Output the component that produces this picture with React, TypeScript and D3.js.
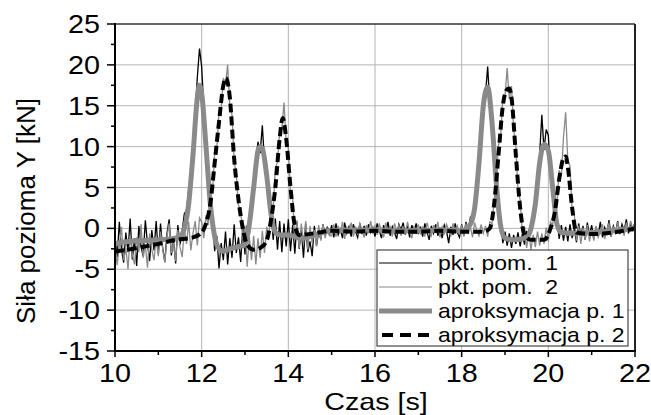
import React from 'react';
import * as d3 from 'd3';

const W = 651;
const H = 415;

const X_TICKS = [10, 12, 14, 16, 18, 20, 22];
const X_MINOR = [11, 13, 15, 17, 19, 21];
const Y_TICKS = [-15, -10, -5, 0, 5, 10, 15, 20, 25];
const Y_MINOR = [-12.5, -7.5, -2.5, 2.5, 7.5, 12.5, 17.5, 22.5];
const X_TITLE = 'Czas [s]';
const Y_TITLE = 'Siła pozioma Y [kN]';
const LEGEND_LABELS = ['pkt. pom.  1', 'pkt. pom.  2', 'aproksymacja p. 1', 'aproksymacja p. 2'];

// raw measurement samples, every 0.05 s from 10 s to 22 s
const RAW_T0 = 10;
const RAW_DT = 0.05;
const PKT1 = [
  -1.0, -3.5, 0.8, -2.6, -4.2, -0.5, -2.9, 1.2, -3.8, -1.2, -4.6, 0.3, -2.2, -3.4, 1.0, -1.9, -4.0, -0.2, -2.7, 0.9,
  -3.1, 0.6, -2.4, -4.1, -0.6, 1.1, -3.3, -1.5, -4.3, 0.4, -2.0, -0.3, 1.8, 2.2, 4.8, 6.5, 10.2, 13.9, 18.5, 22.0,
  19.8, 14.6, 9.2, 7.4, 2.1, 1.6, -2.8, -0.9, -4.9, -1.8, -3.9, -0.4, -4.4, -1.2, -3.6, 0.5, -3.0, -1.1, -4.1, 0.2,
  -3.2, 0.4, -0.8, 3.6, 4.1, 8.3, 10.6, 9.2, 12.6, 8.1, 7.8, 2.9, 2.6, -1.4, 1.2, -2.6, 0.9, -2.9, 0.6, -2.2,
  1.1, -2.8, 0.4, -3.1, 0.8, -2.5, -0.2, -3.6, 0.6, -2.9, -1.6, -3.4, 0.3, -2.1, -0.4, -1.3, 0.5, -0.9, 0.2, -0.8,
  0.4, -1.1, 0.6, -0.8, -0.1, -1.2, 0.7, -0.6, 0.2, -1.0, 0.5, -0.4, -1.1, 0.6, -0.7, 0.3, -0.9, 0.5, -0.5, 0.1,
  -1.0, 0.6, -0.3, -1.2, 0.4, -0.6, 0.8, -0.9, 0.2, -0.5, -1.3, 0.5, -0.2, 0.7, -0.8, 0.3, -1.1, 0.4, -0.4, 0.6,
  -0.7, 0.2, -1.0, 0.6, -0.4, -1.4, 0.3, -0.6, 0.5, -0.9, 0.1, -1.2, 0.4, -0.3, -1.8, 0.2, -0.8, 0.6, -0.5, -1.1,
  0.5, -0.9, 0.8, -0.4, 1.3, 0.6, 3.4, 4.8, 8.9, 11.2, 15.8, 16.4, 19.8, 15.2, 13.8, 8.6, 6.2, 1.6, 1.0, -1.8,
  -0.4, -2.1, -0.6, -2.4, -0.8, -1.9, -0.5, -2.2, -0.7, -2.0, -0.3, -1.5, 0.6, 1.0, 3.8, 4.9, 9.1, 13.9, 9.6, 12.1,
  11.4, 6.8, 5.9, 1.8, 1.4, -1.3, 0.4, -1.5, 0.2, -1.6, 0.5, -1.2, -0.1, -1.7, 0.6, -0.9, 0.3, -1.4, 0.7, -0.8,
  0.4, -1.3, 0.2, -0.9, 0.8, -1.1, 0.1, -0.6, 1.0, -1.0, 0.3, -0.5, 0.9, -0.7, 0.5, -0.3, 1.1, -0.6, 0.6, -0.2, 0.8,
];
const PKT2 = [
  -1.8, -4.5, -2.1, 0.2, -3.9, -2.4, -5.0, -0.9, -3.2, -4.4, -1.1, -2.9, 0.5, -3.6, -2.0, -4.8, -0.6, -2.6, -3.9, -1.3,
  -3.4, -0.4, -2.5, -4.2, -1.0, 0.6, -3.0, -1.8, -4.0, -0.2, -2.3, -3.5, -0.1, -1.9, 0.8, -2.7, -0.6, 0.9, -2.1, 1.3,
  0.8, -1.2, 1.6, 0.4, 4.2, 4.6, 9.1, 9.8, 14.2, 14.6, 18.4, 17.6, 20.0, 15.1, 13.9, 8.2, 6.6, 2.8, 2.4, -1.3,
  0.3, -4.7, -1.0, -3.9, -0.9, -4.4, -1.2, -3.6, -0.3, -3.0, 0.2, -1.1, 2.8, 2.2, 7.4, 8.1, 11.9, 12.2, 15.4, 10.6,
  9.8, 4.1, 3.6, -1.2, 1.0, -2.4, 0.6, -2.0, 0.9, -2.6, 0.3, -1.8, -0.2, -2.2, 0.4, -1.5, 0.5, -1.2, 0.1, -0.9,
  -0.9, 0.5, -1.0, 0.3, -0.6, 0.8, -1.3, 0.1, -0.4, 0.7, -1.0, 0.2, -0.8, 0.6, -0.2, -1.1, 0.4, -0.6, 0.9, -0.5,
  0.3, -0.8, 0.5, -0.2, -1.1, 0.7, -0.5, 0.2, -1.0, 0.6, -0.3, 0.4, -0.9, 0.1, -0.6, 0.8, -0.4, -1.2, 0.3, -0.7,
  0.5, -0.6, 0.1, -1.0, 0.7, -0.3, -0.9, 0.4, -0.5, 0.8, -1.1, 0.2, -0.6, 0.5, -0.2, -1.0, 0.6, -0.4, 0.3, -0.8,
  0.4, -1.0, 0.6, -0.5, 0.2, -1.1, 0.7, -0.3, -0.9, 0.5, -0.6, 0.3, -1.0, 0.8, 0.6, 3.4, 6.1, 10.2, 11.3, 16.0,
  16.2, 19.6, 15.8, 17.4, 12.1, 10.0, 4.6, 3.5, -0.6, 0.2, -2.4, -0.5, -2.6, -0.8, -2.3, -0.4, -2.1, -0.6, -1.9, 0.1,
  -1.6, 0.8, 0.4, 3.2, 3.0, 7.1, 6.4, 11.2, 14.2, 8.3, 7.6, 1.9, 1.6, -1.5, 0.3, -1.9, 0.1, -1.4, 0.4, -1.6,
  -0.2, -1.5, 0.3, -1.1, -0.4, 0.5, -1.3, -0.1, 0.6, -1.0, 0.2, -0.7, 0.8, -0.5, 0.1, -0.9, 0.7, -0.3, 0.9, -0.2, 0.6,
];

// approximations (smooth curves through read-off points)
const APROX1_T = [10.0, 10.3, 10.6, 11.0, 11.3, 11.5, 11.6, 11.7, 11.8, 11.9, 11.95, 12.0, 12.1, 12.2, 12.3, 12.4, 12.5, 12.6, 12.8, 13.0, 13.1, 13.2, 13.3, 13.35, 13.4, 13.5, 13.6, 13.7, 13.8, 14.0, 14.3, 14.6, 15.0, 15.5, 16.0, 16.5, 17.0, 17.5, 18.0, 18.2, 18.3, 18.4, 18.5, 18.6, 18.7, 18.8, 18.9, 19.0, 19.2, 19.5, 19.6, 19.7, 19.8, 19.9, 20.0, 20.1, 20.2, 20.3, 20.6, 21.0, 21.5, 22.0];
const APROX1_Y = [-1.9, -1.6, -1.5, -1.4, -1.3, -1.0, 0.0, 3.0, 9.0, 16.0, 17.5, 16.5, 10.0, 3.0, -1.0, -2.5, -2.8, -2.6, -2.3, -2.0, 0.5, 5.0, 9.5, 10.0, 9.8, 6.5, 1.8, -0.5, -0.8, -0.8, -1.2, -0.8, -0.3, -0.2, -0.2, -0.3, -0.3, -0.2, -0.3, 0.5, 2.5, 8.0, 15.0, 17.3, 13.0, 5.5, 0.3, -1.2, -1.4, -1.1, 0.0, 3.0, 8.0, 10.3, 9.5, 5.0, 0.5, -0.5, -0.6, -0.5, -0.3, 0.0];
const APROX2_T = [10.0, 10.3, 10.6, 11.0, 11.4, 11.8, 12.0, 12.1, 12.2, 12.3, 12.4, 12.5, 12.56, 12.65, 12.75, 12.85, 12.95, 13.05, 13.2, 13.35, 13.5, 13.6, 13.7, 13.8, 13.87, 13.95, 14.05, 14.15, 14.25, 14.6, 15.0, 15.5, 16.0, 16.5, 17.0, 17.5, 18.0, 18.5, 18.65, 18.75, 18.85, 18.95, 19.05, 19.1, 19.15, 19.25, 19.35, 19.45, 19.6, 19.9, 20.05, 20.15, 20.25, 20.35, 20.4, 20.45, 20.55, 20.65, 21.0, 21.5, 22.0];
const APROX2_Y = [-2.8, -2.6, -2.3, -1.9, -1.4, -1.1, -0.5, 0.6, 3.0, 8.0, 13.0, 17.5, 18.4, 16.0, 8.5, 3.5, 0.0, -2.0, -2.6, -2.4, -1.5, 1.0, 5.0, 11.0, 13.5, 11.0, 5.0, 0.3, -0.8, -0.6, -0.3, -0.4, -0.3, -0.4, -0.4, -0.3, -0.4, -0.4, 0.0, 3.0, 9.0, 15.0, 17.0, 17.1, 16.0, 9.0, 2.5, -0.8, -1.4, -1.4, 0.0, 2.0, 6.0, 8.6, 8.8, 7.5, 2.5, -0.5, -0.7, -0.5, 0.0];

const FONT = '"Liberation Sans", Arial, Helvetica, sans-serif';
const SX = 1.15;
const GRAY = '#8a8a8a';

export default function App() {
  const x = d3.scaleLinear().domain([10, 22]).range([115, 635]);
  const y = d3.scaleLinear().domain([-15, 25]).range([351, 24]);

  const rawLine = d3
    .line<number>()
    .x((_, i) => x(RAW_T0 + i * RAW_DT))
    .y((v) => y(v));
  const smooth = d3
    .line<[number, number]>()
    .x((d) => x(d[0]))
    .y((d) => y(d[1]))
    .curve(d3.curveMonotoneX);

  const a1: [number, number][] = APROX1_T.map((t, i) => [t, APROX1_Y[i]]);
  const a2: [number, number][] = APROX2_T.map((t, i) => [t, APROX2_Y[i]]);

  const [x0, x1] = x.range();
  const [yb, yt] = y.range();

  const legX = 377;
  const legY = 250;
  const legW = 251;
  const legH = 96;
  const rowY = (i: number) => legY + 13 + i * 24;

  return (
    <svg
      width={W}
      height={H}
      style={{ position: 'absolute', left: 0, top: 0, background: '#fff' }}
      fontFamily={FONT}
    >
      <rect x={0} y={0} width={W} height={H} fill="#fff" />
      <defs>
        <clipPath id="plotclip">
          <rect x={x0} y={yt} width={x1 - x0} height={yb - yt} />
        </clipPath>
      </defs>
      {/* grid */}
      {X_TICKS.filter((t) => t > 10 && t < 22).map((t) => (
        <line key={'gx' + t} x1={x(t)} x2={x(t)} y1={yt} y2={yb} stroke="#b4b4b4" strokeWidth={1} />
      ))}
      {Y_TICKS.filter((t) => t > -15 && t < 25).map((t) => (
        <line key={'gy' + t} x1={x0} x2={x1} y1={y(t)} y2={y(t)} stroke="#b4b4b4" strokeWidth={1} />
      ))}

      {/* data */}
      <g clipPath="url(#plotclip)">
        <path d={rawLine(PKT1) || ''} fill="none" stroke="#000" strokeWidth={1.3} />
        <path d={rawLine(PKT2) || ''} fill="none" stroke={GRAY} strokeWidth={1.3} />
        <path d={smooth(a1) || ''} fill="none" stroke={GRAY} strokeWidth={5} strokeLinejoin="round" />
        <path d={smooth(a2) || ''} fill="none" stroke="#000" strokeWidth={4} strokeDasharray="9,4" />
      </g>

      {/* frame */}
      <line x1={x0} x2={x1} y1={yt} y2={yt} stroke="#333" strokeWidth={1.5} />
      <line x1={x1} x2={x1} y1={yt} y2={yb} stroke="#222" strokeWidth={2} />
      <line x1={x0} x2={x0} y1={yt - 1} y2={yb + 1} stroke="#000" strokeWidth={2} />
      <line x1={x0 - 1} x2={x1 + 1} y1={yb} y2={yb} stroke="#000" strokeWidth={2} />

      {/* y ticks */}
      {Y_TICKS.map((t) => (
        <g key={'yt' + t}>
          <line x1={x0 - 8} x2={x0} y1={y(t)} y2={y(t)} stroke="#000" strokeWidth={1.5} />
          <text
            transform={`translate(100,${y(t)}) scale(${SX},1)`}
            textAnchor="end"
            dy="0.36em"
            fontSize={25}
            fill="#000"
          >
            {t}
          </text>
        </g>
      ))}
      {Y_MINOR.map((t) => (
        <line key={'ym' + t} x1={x0 - 4} x2={x0} y1={y(t)} y2={y(t)} stroke="#000" strokeWidth={1.5} />
      ))}

      {/* x ticks */}
      {X_TICKS.map((t) => (
        <g key={'xt' + t}>
          <line x1={x(t)} x2={x(t)} y1={yb} y2={yb + 6} stroke="#000" strokeWidth={1.5} />
          <text
            transform={`translate(${x(t)},382) scale(${SX},1)`}
            textAnchor="middle"
            fontSize={25}
            fill="#000"
          >
            {t}
          </text>
        </g>
      ))}
      {X_MINOR.map((t) => (
        <line key={'xm' + t} x1={x(t)} x2={x(t)} y1={yb} y2={yb + 4} stroke="#000" strokeWidth={1.5} />
      ))}

      {/* axis titles */}
      <text
        transform={`translate(376,410) scale(${SX * 1.04},1)`}
        textAnchor="middle"
        fontSize={24}
        fill="#000"
      >
        {X_TITLE}
      </text>
      <text
        transform={`translate(35,211) rotate(-90)`}
        textAnchor="middle"
        fontSize={26}
        fill="#000"
      >
        {Y_TITLE}
      </text>

      {/* legend */}
      <rect x={legX} y={legY} width={legW} height={legH} fill="#fff" stroke="#222" strokeWidth={1} />
      <line x1={379} x2={432} y1={rowY(0)} y2={rowY(0)} stroke="#000" strokeWidth={1} />
      <line x1={379} x2={432} y1={rowY(1)} y2={rowY(1)} stroke={GRAY} strokeWidth={1.2} />
      <line x1={379} x2={432} y1={rowY(2)} y2={rowY(2)} stroke={GRAY} strokeWidth={5} />
      <line x1={379} x2={432} y1={rowY(3)} y2={rowY(3)} stroke="#000" strokeWidth={4} strokeDasharray="11,7" strokeDashoffset={-3} />
      {LEGEND_LABELS.map((l, i) => (
        <text
          key={l}
          transform={`translate(438,${rowY(i)}) scale(${SX},1)`}
          dy="0.36em"
          fontSize={20}
          fill="#000"
          style={{ whiteSpace: 'pre' }}
        >
          {l}
        </text>
      ))}
    </svg>
  );
}
